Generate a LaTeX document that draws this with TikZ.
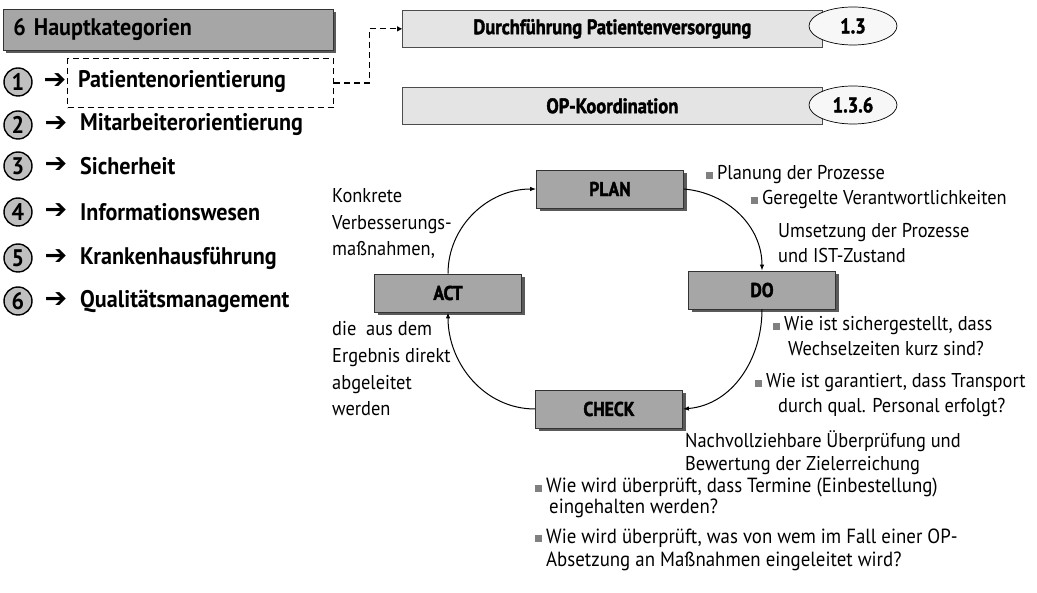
\documentclass[tikz,border=0pt]{standalone}
\usepackage{fontspec}
\setmainfont{PT Sans}[FakeStretch=0.92]
\newfontfamily\heavyfont{PT Sans}[FakeStretch=0.88, BoldFeatures={FakeBold=1.8}]
\newfontfamily\symfont{DejaVu Sans}
\usetikzlibrary{shapes.geometric,arrows.meta,shadows}

\definecolor{boxgray}{HTML}{A6A6A6}
\definecolor{lightbox}{HTML}{E4E4E4}
\definecolor{circgray}{HTML}{C0C0C0}
\definecolor{shadegray}{HTML}{5A5A5A}
\definecolor{bulletgray}{HTML}{808080}

% small grey square bullet
\newcommand\sqb{{\color{bulletgray}\raisebox{1pt}{\rule{7pt}{7pt}}}\hspace{4pt}}

\begin{document}
\begin{tikzpicture}[x=1pt,y=-1pt,
  shadowed/.style={drop shadow={shadow xshift=3pt,shadow yshift=-3pt,fill=shadegray,opacity=1}},
  darkbox/.style={draw=black!80, line width=0.8pt, fill=boxgray, shadowed,
    minimum width=147pt, minimum height=38pt, inner sep=0pt,
    font=\heavyfont\fontsize{20}{22}\selectfont\bfseries},
  lightbar/.style={draw=black!70, line width=0.7pt, fill=lightbox,
    minimum width=420pt, minimum height=37pt, anchor=north west, inner sep=0pt,
    font=\heavyfont\fontsize{21}{24}\selectfont\bfseries},
  tag/.style={ellipse, draw=black, line width=0.7pt, fill=black!3,
    minimum width=88pt, minimum height=38pt, inner sep=0pt,
    font=\heavyfont\fontsize{21}{22}\selectfont\bfseries},
  numdisc/.style={circle, draw=black, line width=1.4pt, fill=circgray,
    minimum size=28pt, inner sep=0pt, font=\fontsize{24}{24}\selectfont\bfseries},
  pointer/.style={inner sep=0pt, font=\symfont\fontsize{27}{28}\selectfont\bfseries},
  catlabel/.style={anchor=west, inner sep=0pt, font=\fontsize{24}{28}\selectfont\bfseries},
  note/.style={anchor=base west, inner sep=0pt, align=left, font=\fontsize{20}{25}\selectfont},
  loopflow/.style={-{Latex[length=6pt,width=4.5pt]}, line width=1pt},
  dashlink/.style={line width=1.1pt, dash pattern=on 6pt off 4pt},
]
\useasboundingbox (0,0) rectangle (1037,593);

% header of the category list
\node[draw=black!80, line width=0.8pt, fill=boxgray, shadowed, anchor=north west,
  minimum width=330pt, minimum height=41pt, text width=310pt, align=left,
  inner xsep=10pt, font=\fontsize{24}{28}\selectfont\bfseries] (hdr) at (3,9) {6 Hauptkategorien};

% numbered categories
\node[numdisc] (c1) at (18,82) {1};
\node[numdisc] (c2) at (18,125) {2};
\node[numdisc] (c3) at (18,166) {3};
\node[numdisc] (c4) at (18,212) {4};
\node[numdisc] (c5) at (18,258) {5};
\node[numdisc] (c6) at (18,301) {6};

\node[pointer] (p1) at (55,81) {➔};
\node[pointer] (p2) at (56,124) {➔};
\node[pointer] (p3) at (56,165) {➔};
\node[pointer] (p4) at (56,211) {➔};
\node[pointer] (p5) at (56,257) {➔};
\node[pointer] (p6) at (56,300) {➔};

\node[catlabel] (l1) at (78,82) {Patientenorientierung};
\node[catlabel] (l2) at (80,125) {Mitarbeiterorientierung};
\node[catlabel] (l3) at (80,166) {Sicherheit};
\node[catlabel] (l4) at (80,212) {Informationswesen};
\node[catlabel] (l5) at (80,258) {Krankenhausführung};
\node[catlabel] (l6) at (80,301) {Qualitätsmanagement};

% selected category
\node[draw, dashlink, anchor=north west, minimum width=266pt, minimum height=49pt,
  inner sep=0pt] (pbox) at (67,58) {};

% sub-category bars with their numbers
\node[lightbar] (dfp) at (402,10) {Durchführung Patientenversorgung};
\node[tag] (t13) at (853,26) {1.3};
\node[lightbar] (opk) at (402,87) {OP-Koordination};
\node[tag] (t136) at (853,105) {1.3.6};

\draw[dashlink, -{Triangle[length=5pt,width=5pt]}] (pbox.east) -- ++(35,0) |- (dfp.west);

% PDCA cycle
\node[darkbox] (plan)  at (610,189) {PLAN};
\node[darkbox] (do)    at (762,290) {DO};
\node[darkbox] (check) at (609,409) {CHECK};
\node[darkbox] (act)   at (448,293) {ACT};

\draw[loopflow] (plan.east) to[out=-5,in=90] (do.north);
\draw[loopflow] (do.south) to[out=-90,in=5] (check.east);
\draw[loopflow] (check.west) to[out=180,in=-90] (act.south);
\draw[loopflow] (act.north) to[out=90,in=180] (plan.west);

% annotations (each node sits on the baseline of its last line)
\node[note, font=\fontsize{20}{26.5}\selectfont] (n1) at (332,256) {Konkrete\\Verbesserungs-\\maßnahmen,};
\node[note, font=\fontsize{20}{26.7}\selectfont] (n2) at (332,416) {die\ \ aus dem\\Ergebnis direkt\\abgeleitet\\werden};
\node[note] (n3) at (706,180) {\sqb Planung der Prozesse};
\node[note] (n4) at (751,205) {\sqb Geregelte Verantwortlichkeiten};
\node[note] (n5) at (778,263) {Umsetzung der Prozesse\\und IST-Zustand};
\node[note] (n6) at (773,356) {\sqb Wie ist sichergestellt, dass\\\hspace*{15pt}Wechselzeiten kurz sind?};
\node[note] (n7) at (755,413) {\sqb Wie ist garantiert, dass Transport\\\hspace*{23pt}durch qual. Personal erfolgt?};
\node[note, font=\fontsize{20}{23}\selectfont] (n8) at (685,471) {Nachvollziehbare Überprüfung und\\Bewertung der Zielerreichung};
\node[note, font=\fontsize{20.5}{21}\selectfont] (n9) at (535,514) {\sqb Wie wird überprüft, dass Termine (Einbestellung)\\\hspace*{14pt}eingehalten werden?};
\node[note, font=\fontsize{20.5}{23}\selectfont] (n10) at (535,566) {\sqb Wie wird überprüft, was von wem im Fall einer OP-\\\hspace*{11pt}Absetzung an Maßnahmen eingeleitet wird?};
\end{tikzpicture}
\end{document}
